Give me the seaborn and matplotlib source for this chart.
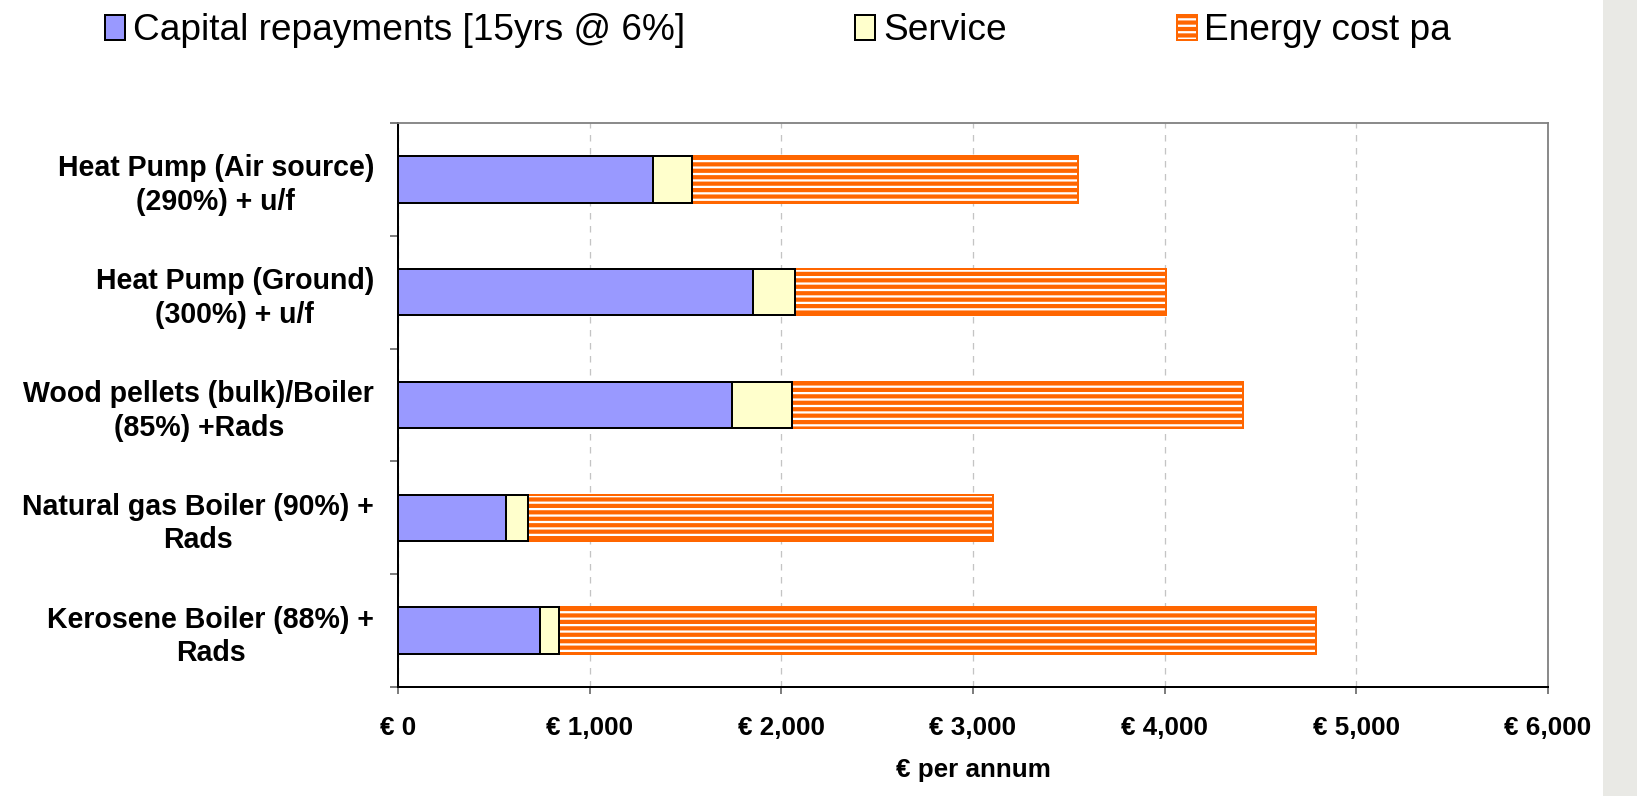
import matplotlib
matplotlib.use("Agg")
import matplotlib.pyplot as plt
import pandas as pd
import seaborn as sns
from matplotlib.patches import Patch, Rectangle
from matplotlib.ticker import FixedLocator, FuncFormatter, MultipleLocator

# Annual running cost of each heating system, € per annum
systems = [
    "Heat Pump (Air source)\n(290%) + u/f",
    "Heat Pump (Ground)\n(300%) + u/f",
    "Wood pellets (bulk)/Boiler\n(85%) +Rads",
    "Natural gas Boiler (90%) +\nRads",
    "Kerosene Boiler (88%) +\nRads",
]
capital = [1330, 1850, 1745, 565, 740]
service = [205, 220, 310, 115, 100]
energy = [2015, 1935, 2355, 2425, 3950]
series_labels = ["Capital repayments [15yrs @ 6%]", "Service", "Energy cost pa"]

CAP_COLOR = "#9999FF"
SERV_COLOR = "#FFFFCC"
ENERGY_COLOR = "#FF6600"

W, H = 1637, 796
DPI = 116


def pt(px):
    """Convert a pixel size to points at the figure resolution."""
    return px * 72.0 / DPI


sns.set_theme(style="white")
plt.rcParams["font.family"] = ["Liberation Sans", "DejaVu Sans"]
plt.rcParams["text.color"] = "black"
plt.rcParams["axes.labelcolor"] = "black"
plt.rcParams["xtick.color"] = "black"
plt.rcParams["ytick.color"] = "black"
plt.rcParams["hatch.linewidth"] = pt(4.2)

df = pd.DataFrame({"system": systems, "capital": capital,
                   "service": service, "energy": energy})
df["cap_serv"] = df["capital"] + df["service"]
df["total"] = df["cap_serv"] + df["energy"]

fig = plt.figure(figsize=(W / DPI, H / DPI), dpi=DPI)
fig.patch.set_facecolor("white")
ax = fig.add_axes([398 / W, 1 - 687 / H, (1548 - 398) / W, (687 - 123) / H])

# stacked bars: draw cumulative totals back to front
sns.barplot(data=df, x="total", y="system", orient="h", color="white",
            saturation=1, edgecolor=ENERGY_COLOR, hatch="---", linewidth=pt(2),
            width=0.41, errorbar=None, ax=ax)
sns.barplot(data=df, x="cap_serv", y="system", orient="h", color=SERV_COLOR,
            saturation=1, edgecolor="black", linewidth=pt(2),
            width=0.41, errorbar=None, ax=ax)
sns.barplot(data=df, x="capital", y="system", orient="h", color=CAP_COLOR,
            saturation=1, edgecolor="black", linewidth=pt(2),
            width=0.41, errorbar=None, ax=ax)

ax.set_xlim(0, 6000)
ax.set_ylim(4.5, -0.5)
ax.set_axisbelow(True)
ax.xaxis.set_major_locator(MultipleLocator(1000))
ax.xaxis.set_major_formatter(FuncFormatter(lambda v, p: f"€ {v:,.0f}"))
ax.xaxis.grid(True, linestyle=(0, (5, 5)), color="#c4c4c4", linewidth=pt(1.3))
ax.yaxis.grid(False)

for side in ("top", "right"):
    ax.spines[side].set_color("#808080")
    ax.spines[side].set_linewidth(pt(1.8))
for side in ("left", "bottom"):
    ax.spines[side].set_color("black")
    ax.spines[side].set_linewidth(pt(2))

ax.yaxis.set_minor_locator(FixedLocator([i - 0.5 for i in range(len(systems) + 1)]))
ax.tick_params(axis="y", which="major", length=0, pad=pt(24))
ax.tick_params(axis="y", which="minor", left=True, length=pt(8), width=pt(1.6),
               color="#606060")
ax.tick_params(axis="x", which="major", bottom=True, length=pt(7), width=pt(1.6),
               color="#606060", pad=pt(22))

for lab in ax.get_yticklabels():
    lab.set_fontsize(pt(28.5))
    lab.set_fontweight("bold")
    lab.set_multialignment("center")
    lab.set_linespacing(1.25)
for lab in ax.get_xticklabels():
    lab.set_fontsize(pt(26))
    lab.set_fontweight("bold")

ax.set_ylabel("")
ax.set_xlabel("€ per annum", fontsize=pt(26), fontweight="bold", labelpad=pt(18))

handles = [
    Patch(facecolor=CAP_COLOR, edgecolor="black", linewidth=pt(2)),
    Patch(facecolor=SERV_COLOR, edgecolor="black", linewidth=pt(2)),
    Patch(facecolor="white", edgecolor=ENERGY_COLOR, hatch="---", linewidth=pt(2)),
]
fig.legend(handles, series_labels, loc="center left",
           bbox_to_anchor=(105 / W, 1 - 31 / H),
           ncol=3, frameon=False, fontsize=pt(37), handlelength=0.55,
           handleheight=0.68, handletextpad=0.2, columnspacing=4.6,
           borderaxespad=0, borderpad=0)

# grey margin on the right
fig.patches.append(Rectangle((1603 / W, 0), 34 / W, 1, transform=fig.transFigure,
                             facecolor="#e9e9e5", edgecolor="none", zorder=-1))

fig.savefig("out.png", dpi=DPI)
